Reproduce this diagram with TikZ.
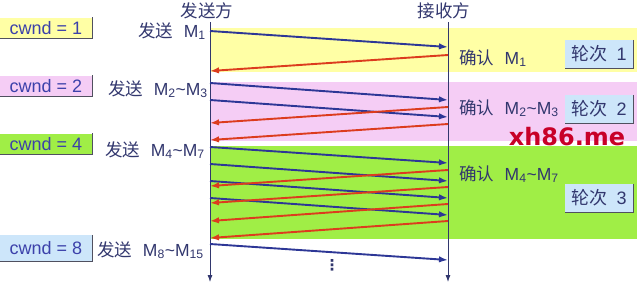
\documentclass[tikz,border=0pt]{standalone}
\usepackage{fontspec}
\setmainfont{Liberation Sans}
\newfontfamily\cjk{Noto Sans CJK SC}
\newfontfamily\markfont{DejaVu Sans}
\usetikzlibrary{arrows.meta, positioning, calc}
\definecolor{bandyellow}{RGB}{255,255,165}
\definecolor{bandpink}{RGB}{245,205,245}
\definecolor{bandgreen}{RGB}{160,238,70}
\definecolor{boxblue}{RGB}{205,230,250}
\definecolor{sendblue}{RGB}{45,55,150}
\definecolor{ackred}{RGB}{220,60,30}
\definecolor{labelnavy}{RGB}{50,55,110}
\definecolor{cwndblue}{RGB}{60,65,170}
\definecolor{edgegray}{RGB}{80,80,95}
\definecolor{markred}{RGB}{200,0,40}

\tikzset{
  lbl/.style={font=\fontsize{17.5}{20}\selectfont, text=labelnavy, inner sep=0pt},
  cwndbox/.style={minimum width=92pt, minimum height=21pt, inner sep=0pt,
    font=\fontsize{18}{20}\selectfont, text=cwndblue},
  roundbox/.style={fill=boxblue, minimum width=68pt, minimum height=28pt, inner sep=0pt,
    font=\fontsize{18}{20}\selectfont, text=labelnavy},
  boxedge/.style={edgegray, line width=1.4pt},
  axis/.style={labelnavy, line width=0.8pt, -{Latex[length=7pt,width=5pt]}},
  data/.style={sendblue, line width=1.9pt, -{Latex[length=9pt,width=6.5pt]}},
  ack/.style={ackred, line width=1.9pt, -{Latex[length=9pt,width=6.5pt]}}
}

\begin{document}
\begin{tikzpicture}[x=1pt, y=-1pt]
  \useasboundingbox (0,0) rectangle (640,284);

  % Rounds (background bands)
  \fill[bandyellow] (210,28) rectangle (637,72);
  \fill[bandpink] (210,82) rectangle (637,141);
  \fill[bandgreen] (210,146) rectangle (637,239);

  % Headers
  \node[lbl] (sender) at (207,11) {\cjk 发送方};
  \node[lbl] (receiver) at (444,11) {\cjk 接收方};

  % Time axes
  \coordinate (stop) at (210,22);
  \coordinate (sbot) at (210,282);
  \coordinate (rtop) at (448,22);
  \coordinate (rbot) at (448,282);
  \draw[axis] (stop) -- (sbot);
  \draw[axis] (rtop) -- (rbot);

  % Congestion window
  \node[cwndbox, fill=bandyellow] (cw1) at (46,28) {cwnd = 1};
  \node[cwndbox, fill=bandpink] (cw2) at (46,86) {cwnd = 2};
  \node[cwndbox, fill=bandgreen] (cw4) at (46,144) {cwnd = 4};
  \node[cwndbox, fill=boxblue, minimum height=26pt] (cw8) at (46,248) {cwnd = 8};
  \draw[boxedge] (cw1.north east) |- (cw1.south west);
  \draw[boxedge] (cw2.north east) |- (cw2.south west);
  \draw[boxedge] (cw4.north east) |- (cw4.south west);
  \draw[boxedge] (cw8.north east) |- (cw8.south west);

  % Sender labels
  \node[lbl, anchor=east] (send1) at (206,31) {\cjk 发送\hspace{0.6em}\rmfamily M\textsubscript{1}};
  \node[lbl, anchor=east] (send2) at (208,89) {\cjk 发送\hspace{0.6em}\rmfamily M\textsubscript{2}\textasciitilde M\textsubscript{3}};
  \node[lbl, anchor=east] (send4) at (205,150) {\cjk 发送\hspace{0.6em}\rmfamily M\textsubscript{4}\textasciitilde M\textsubscript{7}};
  \node[lbl, anchor=east] (send8) at (204,250) {\cjk 发送\hspace{0.6em}\rmfamily M\textsubscript{8}\textasciitilde M\textsubscript{15}};

  % Receiver labels
  \node[lbl, anchor=west] (ack1) at (459,58) {\cjk 确认\hspace{0.6em}\rmfamily M\textsubscript{1}};
  \node[lbl, anchor=west] (ack2) at (459,108) {\cjk 确认\hspace{0.6em}\rmfamily M\textsubscript{2}\textasciitilde M\textsubscript{3}};
  \node[lbl, anchor=west] (ack4) at (459,174) {\cjk 确认\hspace{0.6em}\rmfamily M\textsubscript{4}\textasciitilde M\textsubscript{7}};

  % Round boxes
  \node[roundbox] (round1) at (599,54) {\cjk 轮次\hspace{0.5em}\rmfamily 1};
  \node[roundbox] (round2) at (599,109) {\cjk 轮次\hspace{0.5em}\rmfamily 2};
  \node[roundbox] (round3) at (599,198) {\cjk 轮次\hspace{0.5em}\rmfamily 3};
  \draw[boxedge] (round1.north east) |- (round1.south west);
  \draw[boxedge] (round2.north east) |- (round2.south west);
  \draw[boxedge] (round3.north east) |- (round3.south west);

  % Segment end points
  \coordinate (s1) at (210,31);  \coordinate (r1) at (448,47);
  \coordinate (a1) at (448,55);  \coordinate (b1) at (210,71);
  \coordinate (s2) at (210,83);  \coordinate (r2) at (448,100);
  \coordinate (s3) at (210,100); \coordinate (r3) at (448,117);
  \coordinate (a2) at (448,107); \coordinate (b2) at (210,123);
  \coordinate (a3) at (448,124); \coordinate (b3) at (210,140);
  \coordinate (s4) at (210,147); \coordinate (r4) at (448,163);
  \coordinate (s5) at (210,164); \coordinate (r5) at (448,181);
  \coordinate (s6) at (210,181); \coordinate (r6) at (448,198);
  \coordinate (s7) at (210,198); \coordinate (r7) at (448,215);
  \coordinate (a4) at (448,170); \coordinate (b4) at (210,186);
  \coordinate (a5) at (448,187); \coordinate (b5) at (210,203);
  \coordinate (a6) at (448,204); \coordinate (b6) at (210,221);
  \coordinate (a7) at (448,221); \coordinate (b7) at (210,238);
  \coordinate (s8) at (210,244); \coordinate (r8) at (448,260);

  % Data segments
  \draw[data] (s1) -- (r1);
  \draw[data] (s2) -- (r2);
  \draw[data] (s3) -- (r3);
  \draw[data] (s4) -- (r4);
  \draw[data] (s5) -- (r5);
  \draw[data] (s6) -- (r6);
  \draw[data] (s7) -- (r7);
  \draw[data] (s8) -- (r8);

  % Acknowledgements
  \draw[ack] (a1) -- (b1);
  \draw[ack] (a2) -- (b2);
  \draw[ack] (a3) -- (b3);
  \draw[ack] (a4) -- (b4);
  \draw[ack] (a5) -- (b5);
  \draw[ack] (a6) -- (b6);
  \draw[ack] (a7) -- (b7);

  \node[text=labelnavy, font=\markfont\bfseries\fontsize{15}{16}\selectfont] (more) at (332,265) {⋮};

  % Watermark
  \node[text=markred, font=\markfont\bfseries\fontsize{24}{26}\selectfont] (mark) at (567,137) {xh86.me};
\end{tikzpicture}
\end{document}
